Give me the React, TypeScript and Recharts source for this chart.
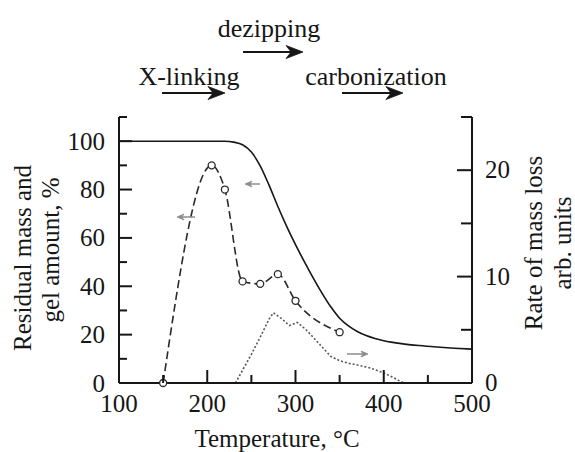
import React from 'react';
import { ComposedChart, Line, XAxis, YAxis } from 'recharts';

// Residual mass (%), left axis
const massT = [100, 200, 220, 230, 240, 250, 260, 270, 280, 290, 300, 310, 320, 330, 340, 350, 360, 370, 380, 390, 400, 420, 440, 460, 480, 500];
const massV = [100, 100, 100, 99.6, 98.5, 95.5, 89.8, 81.8, 73, 64.8, 57.2, 50.2, 43.5, 37.2, 31.5, 26.8, 23.6, 21.3, 19.6, 18.4, 17.5, 16.3, 15.5, 14.9, 14.4, 14];

// Gel amount (%), left axis
const gelT = [150, 205, 220, 240, 260, 280, 300, 350];
const gelV = [0, 90, 80, 42, 41, 45, 34, 21];

// Rate of mass loss (arb. units), right axis
const rateT = [232, 240, 250, 260, 270, 275, 285, 293, 302, 312, 320, 330, 340, 350, 360, 370, 385, 400, 410, 420, 425];
const rateV = [0, 1.2, 2.7, 4.3, 6.0, 6.6, 6.0, 5.4, 5.7, 5.0, 4.3, 3.4, 2.5, 2.1, 1.85, 1.7, 1.4, 0.95, 0.55, 0.1, 0];

const xTicks = [100, 150, 200, 250, 300, 350, 400, 450, 500];
const leftTicks = [0, 10, 20, 30, 40, 50, 60, 70, 80, 90, 100, 110];
const rightTicks = [0, 5, 10, 15, 20, 25];

const massData = massT.map((t, i) => ({ t, v: massV[i] }));
const gelData = gelT.map((t, i) => ({ t, v: gelV[i] }));
const rateData = rateT.map((t, i) => ({ t, v: rateV[i] }));

const FONT = 'Liberation Serif, Times New Roman, serif';
const INK = '#161616';

const XTick = (props: any) => {
  const { x, y, payload } = props;
  const major = payload.value % 100 === 0;
  return (
    <g>
      <line x1={x} x2={x} y1={y} y2={y - (major ? 13 : 8)} stroke={INK} strokeWidth={2} />
      {major && (
        <text x={x} y={y + 29} textAnchor="middle" fontFamily={FONT} fontSize={25} fill={INK}>
          {payload.value}
        </text>
      )}
    </g>
  );
};

const LeftTick = (props: any) => {
  const { x, y, payload } = props;
  const major = payload.value % 20 === 0 && payload.value <= 100;
  return (
    <g>
      <line x1={x} x2={x + (major ? 13 : 8)} y1={y} y2={y} stroke={INK} strokeWidth={2} />
      {major && (
        <text x={x - 14} y={y + 8.5} textAnchor="end" fontFamily={FONT} fontSize={25} fill={INK}>
          {payload.value}
        </text>
      )}
    </g>
  );
};

const RightTick = (props: any) => {
  const { x, y, payload } = props;
  const major = payload.value % 10 === 0;
  return (
    <g>
      <line x1={x} x2={x - (major ? 15 : 11)} y1={y} y2={y} stroke={INK} strokeWidth={2} />
      {major && (
        <text x={x + 13} y={y + 8} textAnchor="start" fontFamily={FONT} fontSize={25} fill={INK}>
          {payload.value}
        </text>
      )}
    </g>
  );
};

const Arrow = ({ x1, x2, y, color, w, hl, hw }: any) => {
  const dir = x2 > x1 ? 1 : -1;
  const back = x2 - dir * hl;
  const notch = x2 - dir * hl * 0.7;
  return (
    <g>
      <line x1={x1} x2={notch} y1={y} y2={y} stroke={color} strokeWidth={w} />
      <path d={`M${x2},${y} L${back},${y - hw} L${notch},${y} L${back},${y + hw} Z`} fill={color} stroke={color} strokeWidth={0.8} />
    </g>
  );
};

export default function App() {
  return (
    <div style={{ position: 'absolute', left: 0, top: 0, width: 575, height: 452, background: '#fff' }}>
      <ComposedChart width={575} height={452} margin={{ top: 117, right: 0, bottom: 0, left: 0 }}>
        <XAxis
          dataKey="t"
          type="number"
          domain={[100, 500]}
          ticks={xTicks}
          interval={0}
          height={69}
          tickSize={0}
          tickMargin={0}
          tickLine={false}
          axisLine={{ stroke: INK, strokeWidth: 2 }}
          tick={<XTick />}
          allowDuplicatedCategory={false}
        />
        <YAxis
          yAxisId="left"
          orientation="left"
          type="number"
          domain={[0, 110]}
          ticks={leftTicks}
          interval={0}
          width={119}
          tickSize={0}
          tickMargin={0}
          tickLine={false}
          axisLine={{ stroke: INK, strokeWidth: 2 }}
          tick={<LeftTick />}
        />
        <YAxis
          yAxisId="right"
          orientation="right"
          type="number"
          domain={[0, 25]}
          ticks={rightTicks}
          interval={0}
          width={103}
          tickSize={0}
          tickMargin={0}
          tickLine={false}
          axisLine={{ stroke: INK, strokeWidth: 2 }}
          tick={<RightTick />}
        />
        <Line
          yAxisId="right"
          data={rateData}
          dataKey="v"
          type="linear"
          stroke="#5a5a5a"
          strokeWidth={1.6}
          strokeDasharray="2 2"
          dot={false}
          isAnimationActive={false}
        />
        <Line
          yAxisId="left"
          data={massData}
          dataKey="v"
          type="monotone"
          stroke={INK}
          strokeWidth={1.6}
          dot={false}
          isAnimationActive={false}
        />
        <Line
          yAxisId="left"
          data={gelData}
          dataKey="v"
          type="monotone"
          stroke="#2a2a2a"
          strokeWidth={1.6}
          strokeDasharray="8 4"
          dot={{ r: 3.5, stroke: '#2a2a2a', strokeWidth: 1.3, fill: '#fff', strokeDasharray: 'none' }}
          isAnimationActive={false}
        />
      </ComposedChart>
      <svg
        width={575}
        height={452}
        style={{ position: 'absolute', left: 0, top: 0, pointerEvents: 'none' }}
      >
        <text x={269} y={37} textAnchor="middle" fontFamily={FONT} fontSize={26} fill={INK}>dezipping</text>
        <Arrow x1={243} x2={303} y={52} color={INK} w={2} hl={17} hw={6.5} />
        <text x={189} y={85} textAnchor="middle" fontFamily={FONT} fontSize={26} fill={INK}>X-linking</text>
        <Arrow x1={162} x2={225} y={93} color={INK} w={2} hl={17} hw={6.5} />
        <text x={376} y={85} textAnchor="middle" fontFamily={FONT} fontSize={26} fill={INK}>carbonization</text>
        <Arrow x1={342} x2={403} y={93} color={INK} w={2} hl={17} hw={6.5} />

        <Arrow x1={195} x2={177} y={217} color="#8c8c8c" w={1.5} hl={7} hw={3} />
        <Arrow x1={260} x2={245} y={184} color="#8c8c8c" w={1.5} hl={7} hw={3} />
        <Arrow x1={347} x2={368} y={354} color="#8c8c8c" w={1.5} hl={7} hw={3} />

        <text x={31} y={258} transform="rotate(-90 31 258)" textAnchor="middle" fontFamily={FONT} fontSize={25} fill={INK}>Residual mass and</text>
        <text x={59} y={250} transform="rotate(-90 59 250)" textAnchor="middle" fontFamily={FONT} fontSize={25} fill={INK}>gel amount, %</text>
        <text x={542} y={243} transform="rotate(-90 542 243)" textAnchor="middle" fontFamily={FONT} fontSize={25} fill={INK}>Rate of mass loss</text>
        <text x={571} y={243} transform="rotate(-90 571 243)" textAnchor="middle" fontFamily={FONT} fontSize={25} fill={INK}>arb. units</text>

        <text x={277} y={447} textAnchor="middle" fontFamily={FONT} fontSize={25} fill={INK}>Temperature, °C</text>
      </svg>
    </div>
  );
}
